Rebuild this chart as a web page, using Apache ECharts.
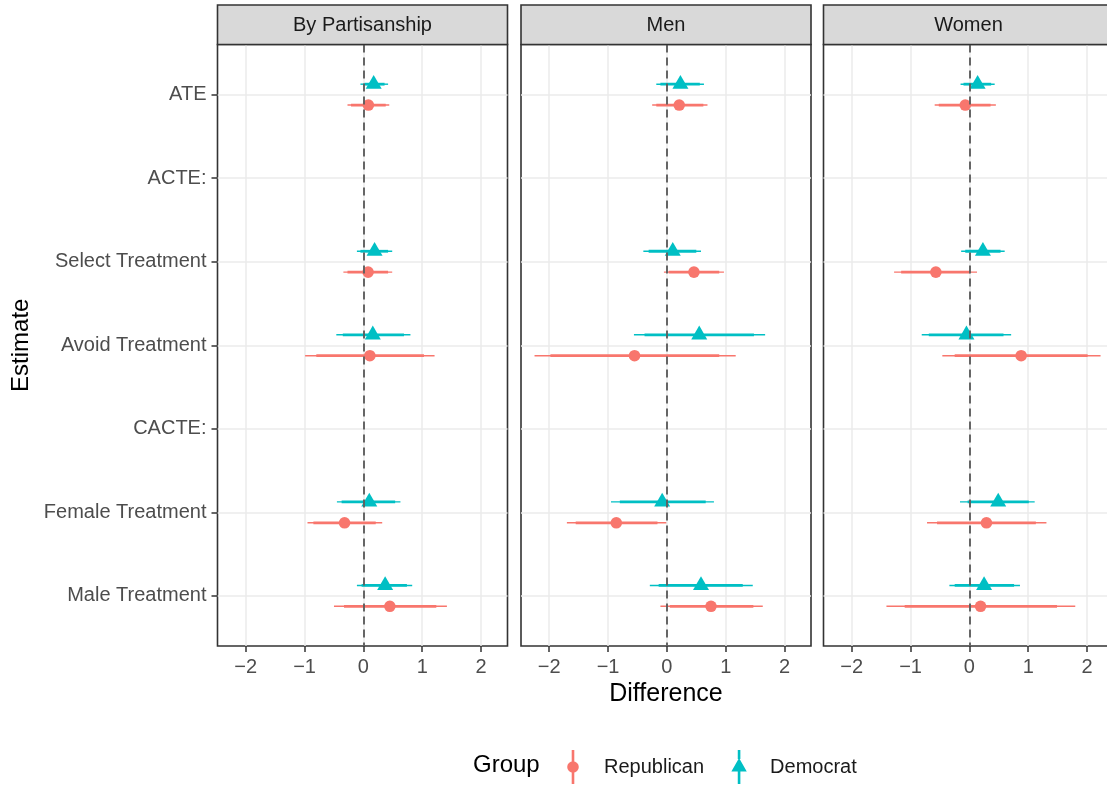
<!DOCTYPE html>
<html>
<head>
<meta charset="utf-8">
<script src="https://cdn.jsdelivr.net/npm/echarts@6/dist/echarts.min.js"></script>
<style>
html,body{margin:0;padding:0;background:#fff;}
#chart{width:1107px;height:785px;}
</style>
</head>
<body>
<div id="chart"></div>
<script>
// ---------- data ----------
const categories = ['ATE', 'ACTE:', 'Select Treatment', 'Avoid Treatment', 'CACTE:', 'Female Treatment', 'Male Treatment'];
const panelTitles = ['By Partisanship', 'Men', 'Women'];
const groupNames = ['Republican', 'Democrat'];
const xTicks = [-2, -1, 0, 1, 2];
const yTicks = [0, 1, 2, 3, 4, 5, 6];

// By Partisanship
const partRepEst = [0.085, null, 0.08, 0.11, null, -0.32, 0.45];
const partRep95 = [[-0.27, 0.44], null, [-0.34, 0.49], [-0.99, 1.21], null, [-0.95, 0.32], [-0.50, 1.42]];
const partRep90 = [[-0.21, 0.38], null, [-0.27, 0.42], [-0.80, 1.03], null, [-0.85, 0.21], [-0.33, 1.24]];
const partDemEst = [0.175, null, 0.19, 0.16, null, 0.10, 0.37];
const partDem95 = [[-0.05, 0.42], null, [-0.11, 0.49], [-0.46, 0.80], null, [-0.45, 0.63], [-0.11, 0.83]];
const partDem90 = [[0.02, 0.36], null, [-0.05, 0.42], [-0.35, 0.69], null, [-0.37, 0.54], [-0.03, 0.74]];

// Men
const menRepEst = [0.21, null, 0.46, -0.55, null, -0.86, 0.75];
const menRep95 = [[-0.25, 0.69], null, [-0.05, 0.97], [-2.25, 1.17], null, [-1.70, -0.01], [-0.11, 1.63]];
const menRep90 = [[-0.18, 0.62], null, [0.03, 0.89], [-1.98, 0.89], null, [-1.55, -0.16], [0.05, 1.47]];
const menDemEst = [0.23, null, 0.10, 0.55, null, -0.08, 0.58];
const menDem95 = [[-0.18, 0.63], null, [-0.40, 0.58], [-0.56, 1.67], null, [-0.95, 0.80], [-0.29, 1.46]];
const menDem90 = [[-0.11, 0.56], null, [-0.31, 0.50], [-0.38, 1.48], null, [-0.80, 0.66], [-0.14, 1.29]];

// Women
const womenRepEst = [-0.07, null, -0.57, 0.88, null, 0.29, 0.19];
const womenRep95 = [[-0.59, 0.45], null, [-1.28, 0.13], [-0.46, 2.23], null, [-0.72, 1.31], [-1.41, 1.80]];
const womenRep90 = [[-0.52, 0.36], null, [-1.16, 0.01], [-0.25, 2.01], null, [-0.55, 1.13], [-1.10, 1.49]];
const womenDemEst = [0.14, null, 0.23, -0.05, null, 0.49, 0.25];
const womenDem95 = [[-0.15, 0.43], null, [-0.14, 0.60], [-0.81, 0.71], null, [-0.16, 1.11], [-0.34, 0.86]];
const womenDem90 = [[-0.10, 0.37], null, [-0.07, 0.53], [-0.69, 0.58], null, [-0.03, 1.01], [-0.25, 0.76]];

// ---------- styling / layout ----------
const FONT = 'Liberation Sans, Arial, Helvetica, sans-serif';
const COLORS = { Republican: '#F8766D', Democrat: '#00BFC4' };
const DODGE = { Republican: 0.125, Democrat: -0.125 };
const gridLefts = [217.5, 521, 823.5];
const GRID_W = 290, GRID_TOP = 44.5, GRID_H = 601.5;
const STRIP_TOP = 5, STRIP_H = 39.5;

const panelData = [
  { Republican: [partRepEst, partRep95, partRep90], Democrat: [partDemEst, partDem95, partDem90] },
  { Republican: [menRepEst, menRep95, menRep90], Democrat: [menDemEst, menDem95, menDem90] },
  { Republican: [womenRepEst, womenRep95, womenRep90], Democrat: [womenDemEst, womenDem95, womenDem90] }
];

function buildRows(est, ci95, ci90, dodge) {
  const rows = [];
  est.forEach((v, i) => {
    if (v === null) return;
    rows.push([v, ci95[i][0], ci95[i][1], ci90[i][0], ci90[i][1], i + dodge]);
  });
  return rows;
}

function makeRender(shape) {
  return function (params, api) {
    const y = api.value(5);
    const c = api.coord([api.value(0), y]);
    const a95 = api.coord([api.value(1), y]);
    const b95 = api.coord([api.value(2), y]);
    const a90 = api.coord([api.value(3), y]);
    const b90 = api.coord([api.value(4), y]);
    const color = api.visual('color');
    const children = [
      { type: 'line', shape: { x1: a95[0], y1: a95[1], x2: b95[0], y2: b95[1] }, style: { stroke: color, lineWidth: 1.4 } },
      { type: 'line', shape: { x1: a90[0], y1: a90[1], x2: b90[0], y2: b90[1] }, style: { stroke: color, lineWidth: 2.8 } }
    ];
    if (shape === 'circle') {
      children.push({ type: 'circle', shape: { cx: c[0], cy: c[1], r: 5.8 }, style: { fill: color } });
    } else {
      children.push({ type: 'polygon', shape: { points: [[c[0], c[1] - 9.2], [c[0] + 8, c[1] + 4.6], [c[0] - 8, c[1] + 4.6]] }, style: { fill: color } });
    }
    return { type: 'group', children: children };
  };
}

const grids = [], xAxes = [], yAxes = [], series = [], graphics = [];
const minus = v => (v < 0 ? '\u2212' + Math.abs(v) : String(v));

panelTitles.forEach((title, p) => {
  grids.push({
    left: gridLefts[p], top: GRID_TOP, width: GRID_W, height: GRID_H,
    show: true, backgroundColor: '#FFFFFF', borderColor: '#333333', borderWidth: 1.6,
    containLabel: false, outerBoundsMode: 'none'
  });
  xAxes.push({
    type: 'value', gridIndex: p, min: -2.48, max: 2.45, position: 'bottom',
    axisLine: { show: false, onZero: false },
    axisTick: { show: true, length: 6, customValues: xTicks, lineStyle: { color: '#333333', width: 1.5 } },
    axisLabel: { show: true, customValues: xTicks, formatter: minus, color: '#4D4D4D', fontSize: 20, fontFamily: FONT, margin: 11 },
    splitLine: { show: true, lineStyle: { color: '#EBEBEB', width: 1.5 } },
    name: p === 1 ? 'Difference' : '', nameLocation: 'middle', nameGap: 35,
    nameTextStyle: { color: '#000000', fontSize: 25, fontFamily: FONT }
  });
  yAxes.push({
    type: 'value', gridIndex: p, min: -0.6, max: 6.6, inverse: true, position: 'left',
    axisLine: { show: false, onZero: false },
    axisTick: { show: p === 0, length: 6, customValues: yTicks, lineStyle: { color: '#333333', width: 1.5 } },
    axisLabel: { show: p === 0, customValues: yTicks, formatter: v => categories[Math.round(v)], color: '#4D4D4D', fontSize: 20, fontFamily: FONT, margin: 11, padding: [4, 0, 0, 0] },
    splitLine: { show: true, lineStyle: { color: '#EBEBEB', width: 1.5 } },
    name: p === 0 ? 'Estimate' : '', nameLocation: 'middle', nameGap: 184, nameRotate: 90,
    nameTextStyle: { color: '#000000', fontSize: 24, fontFamily: FONT }
  });
  // zero reference line
  series.push({
    type: 'line', xAxisIndex: p, yAxisIndex: p, data: [], z: 1, silent: true,
    markLine: {
      silent: true, symbol: ['none', 'none'], label: { show: false },
      lineStyle: { color: '#5F5F5F', width: 1.9, type: [8, 5] },
      emphasis: { disabled: true },
      data: [{ xAxis: 0 }]
    }
  });
  groupNames.forEach(g => {
    const d = panelData[p][g];
    series.push({
      type: 'custom', name: g, xAxisIndex: p, yAxisIndex: p, z: 3,
      itemStyle: { color: COLORS[g] },
      renderItem: makeRender(g === 'Republican' ? 'circle' : 'triangle'),
      encode: { x: [0, 1, 2, 3, 4], y: 5 },
      data: buildRows(d[0], d[1], d[2], DODGE[g])
    });
  });
  // facet strip
  graphics.push({
    type: 'rect', shape: { x: gridLefts[p], y: STRIP_TOP, width: GRID_W, height: STRIP_H },
    style: { fill: '#D9D9D9', stroke: '#333333', lineWidth: 1.6 }, z: 10
  });
  graphics.push({
    type: 'text', x: gridLefts[p] + GRID_W / 2, y: STRIP_TOP + STRIP_H / 2 + 1, z: 11,
    style: { text: title, fill: '#1A1A1A', font: '20px ' + FONT, align: 'center', verticalAlign: 'middle' }
  });
});

graphics.push({
  type: 'text', x: 473, y: 765, z: 11,
  style: { text: 'Group', fill: '#000000', font: '24px ' + FONT, align: 'left', verticalAlign: 'middle' }
});

const repIcon = 'path://M0,0M52,34M24.7,0L27.3,0L27.3,11.5L24.7,11.5ZM24.7,22.5L27.3,22.5L27.3,34L24.7,34ZM20.2,17A5.8,5.8,0,1,1,31.8,17A5.8,5.8,0,1,1,20.2,17Z';
const demIcon = 'path://M0,0M52,34M24.7,0L27.3,0L27.3,9L24.7,9ZM24.7,21L27.3,21L27.3,34L24.7,34ZM26,8.1L33.7,21.5L18.3,21.5Z';

const chart = echarts.init(document.getElementById('chart'), null, { renderer: 'canvas' });
chart.setOption({
  animation: false,
  backgroundColor: '#FFFFFF',
  grid: grids,
  xAxis: xAxes,
  yAxis: yAxes,
  series: series,
  graphic: graphics,
  legend: {
    left: 542, top: 745, orient: 'horizontal', padding: 5,
    itemWidth: 52, itemHeight: 34, itemGap: 9, selectedMode: false,
    textStyle: { color: '#1A1A1A', fontSize: 20, fontFamily: FONT },
    data: [{ name: 'Republican', icon: repIcon }, { name: 'Democrat', icon: demIcon }]
  }
});
</script>
</body>
</html>
